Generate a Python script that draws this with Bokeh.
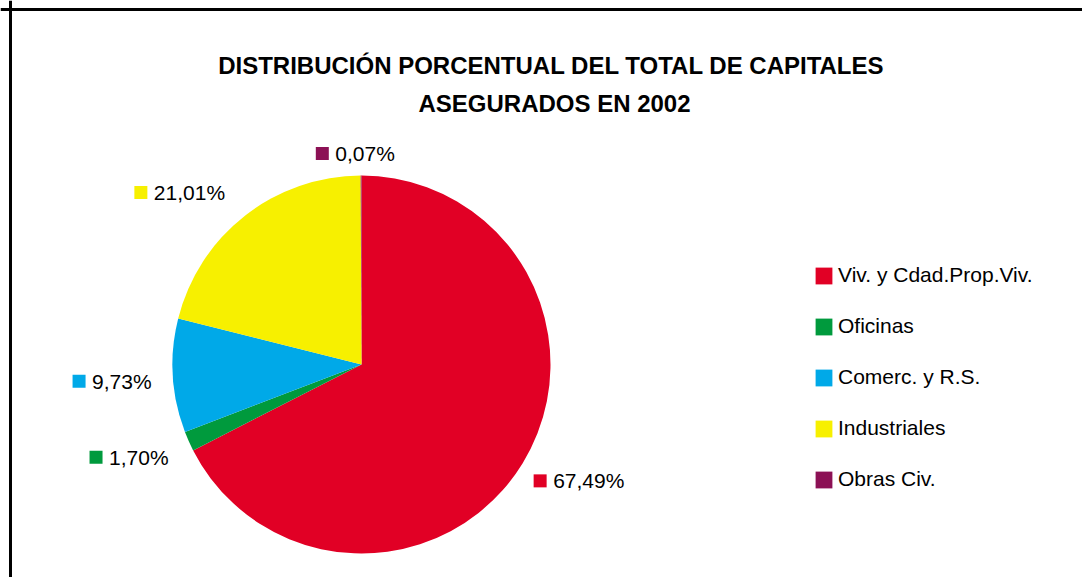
import math
from bokeh.plotting import figure
from bokeh.models import Range1d, Span, Legend, LegendItem, ColumnDataSource
from bokeh.core.properties import value
from bokeh.embed import file_html
from bokeh.resources import INLINE

# ---- data ----
categories = ["Viv. y Cdad.Prop.Viv.", "Oficinas", "Comerc. y R.S.", "Industriales", "Obras Civ."]
percentages = [67.49, 1.70, 9.73, 21.01, 0.07]
pct_labels = ["67,49%", "1,70%", "9,73%", "21,01%", "0,07%"]
title_lines = ["DISTRIBUCIÓN PORCENTUAL DEL TOTAL DE CAPITALES", "ASEGURADOS EN 2002"]

# ---- styles / layout ----
colors = ["#E10025", "#009A3D", "#00A9E8", "#F7F000", "#8C1155"]
label_radius = [1.128, 1.488, 1.497, 1.48, 1.135]
label_nudge_deg = [-1.6, -4.7, 0.0, 14.0, 10.4]
FONT = "Liberation Sans"

W, H = 1082, 577
p = figure(width=W, height=H, output_backend="svg", toolbar_location=None,
           x_range=Range1d(0, W), y_range=Range1d(0, H), min_border=0)
p.axis.visible = False
p.grid.visible = False
p.outline_line_color = None
p.background_fill_color = "white"
p.border_fill_color = "white"


def py(pic_y):
    return H - pic_y


cx, cy, R = 361, py(364), 189

# wedges: clockwise from 12 o'clock
total = sum(percentages)
starts, ends, mids = [], [], []
a = 90.0
for v in percentages:
    sweep = v / total * 360.0
    e = a - sweep
    starts.append(math.radians(e))
    ends.append(math.radians(a))
    mids.append((a + e) / 2)
    a = e

src = ColumnDataSource(dict(start=starts, end=ends, color=colors, cat=categories))
wr = p.wedge(x=cx, y=cy, radius=R, start_angle="start", end_angle="end",
             fill_color="color", line_color=None, source=src)

# data labels with a small key square
lx, ly, tx = [], [], []
for m, rf, nd in zip(mids, label_radius, label_nudge_deg):
    ang = math.radians(m + nd)
    x = cx + rf * R * math.cos(ang)
    y = cy + rf * R * math.sin(ang)
    lx.append(x)
    ly.append(y)
    tx.append(x + 13)
lab = ColumnDataSource(dict(x=lx, y=ly, tx=tx, t=pct_labels, color=colors))
p.scatter(x="x", y="y", marker="square", size=13, fill_color="color", line_color=None, source=lab)
p.text(x="tx", y="y", text="t", source=lab, text_font=value(FONT), text_font_size="21px",
       text_baseline="middle", text_align="left", text_color="#000000")

# title
p.text(x=[551, 554], y=[py(65), py(103)], text=title_lines, text_font=value(FONT),
       text_font_size="24px", text_font_style="bold", text_align="center",
       text_baseline="middle", text_color="#000000")

# frame (left and top edges)
p.add_layout(Span(location=10, dimension="height", line_color="black", line_width=3))
p.add_layout(Span(location=py(9), dimension="width", line_color="black", line_width=3))

legend = Legend(items=[LegendItem(label=c, renderers=[wr], index=i) for i, c in enumerate(categories)],
                location=(813, 86), orientation="vertical",
                glyph_width=21, glyph_height=21, spacing=27, label_standoff=4,
                label_text_font=FONT, label_text_font_size="21px", label_text_color="#000000",
                border_line_color=None, background_fill_alpha=0, padding=0, margin=0)
p.add_layout(legend, "center")

open("out.html", "w").write(file_html(p, INLINE))
